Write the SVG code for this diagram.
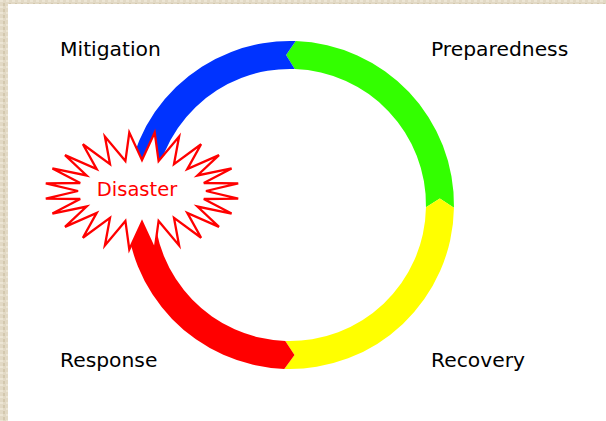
<svg xmlns="http://www.w3.org/2000/svg" width="606" height="421" viewBox="0 0 606 421">
  <defs>
    <pattern id="tex" width="6" height="6" patternUnits="userSpaceOnUse">
      <rect width="6" height="6" fill="#e2d9c5"/>
      <rect x="0" y="0" width="3" height="2" fill="#ece5d4"/>
      <rect x="3" y="3" width="2" height="3" fill="#d3c8ae"/>
    </pattern>
  </defs>
  <style>
    .label { font-family: "DejaVu Sans", Verdana, sans-serif; font-size: 20.3px; fill: #000000; }
    .dis { font-family: "DejaVu Sans", Verdana, sans-serif; font-size: 19.5px; fill: #ff0000; }
    .seg { stroke: none; }
    .star { fill: #ffffff; stroke: #ff0000; stroke-width: 2.3; stroke-linejoin: miter; }
  </style>
  <rect width="606" height="421" fill="#ffffff"/>
  <rect x="0" y="0" width="606" height="4" fill="url(#tex)"/>
  <rect x="0" y="0" width="8" height="421" fill="url(#tex)"/>

  <g id="connectors">
    <path id="seg-green" class="seg" fill="#33ff00" d="M295.72,41.10 A164,164 0 0 1 453.98,207.86 L439.86,198.46 L425.98,207.37 A136,136 0 0 0 294.75,69.08 L286.07,55.05 Z"/>
    <path id="seg-yellow" class="seg" fill="#ffff00" d="M453.98,207.86 A164,164 0 0 1 284.28,368.90 L294.5,354.95 L285.25,340.92 A136,136 0 0 0 425.98,207.37 L439.86,198.46 Z"/>
    <path id="seg-red" class="seg" fill="#ff0000" d="M284.28,368.90 A164,164 0 0 1 126,205 L140.28,214.16 L154,205 A136,136 0 0 0 285.25,340.92 L294.5,354.95 Z"/>
    <path id="seg-blue" class="seg" fill="#0033ff" d="M126,205 A164,164 0 0 1 295.72,41.10 L286.07,55.05 L294.75,69.08 A136,136 0 0 0 154,205 L140.28,214.16 Z"/>
  </g>

  <g id="mitigation">
    <text class="label" x="60" y="56">Mitigation</text>
  </g>
  <g id="preparedness">
    <text class="label" x="431" y="56">Preparedness</text>
  </g>
  <g id="response">
    <text class="label" x="60" y="367">Response</text>
  </g>
  <g id="recovery">
    <text class="label" x="431" y="367">Recovery</text>
  </g>

  <g id="disaster">
    <polygon class="star" points="206,191 238.2,198.7 203.8,199 231.6,213.6 197.4,206.5 219,226.9 187.3,212.9 201.1,237.8 174,217.9 179.1,245.5 158.6,220.9 154.7,249.5 142,222 129.3,249.5 125.4,220.9 104.9,245.5 110,217.9 82.9,237.8 96.7,212.9 65,226.9 86.6,206.5 52.4,213.6 80.2,199 45.8,198.7 78,191 45.8,183.3 80.2,183 52.4,168.4 86.6,175.5 65,155.1 96.7,169.1 82.9,144.2 110,164.1 104.9,136.5 125.4,161.1 129.3,132.5 142,160 154.7,132.5 158.6,161.1 179.1,136.5 174,164.1 201.1,144.2 187.3,169.1 219,155.1 197.4,175.5 231.6,168.4 203.8,183 238.2,183.3"/>
    <text class="dis" x="137" y="196" text-anchor="middle">Disaster</text>
  </g>
</svg>
